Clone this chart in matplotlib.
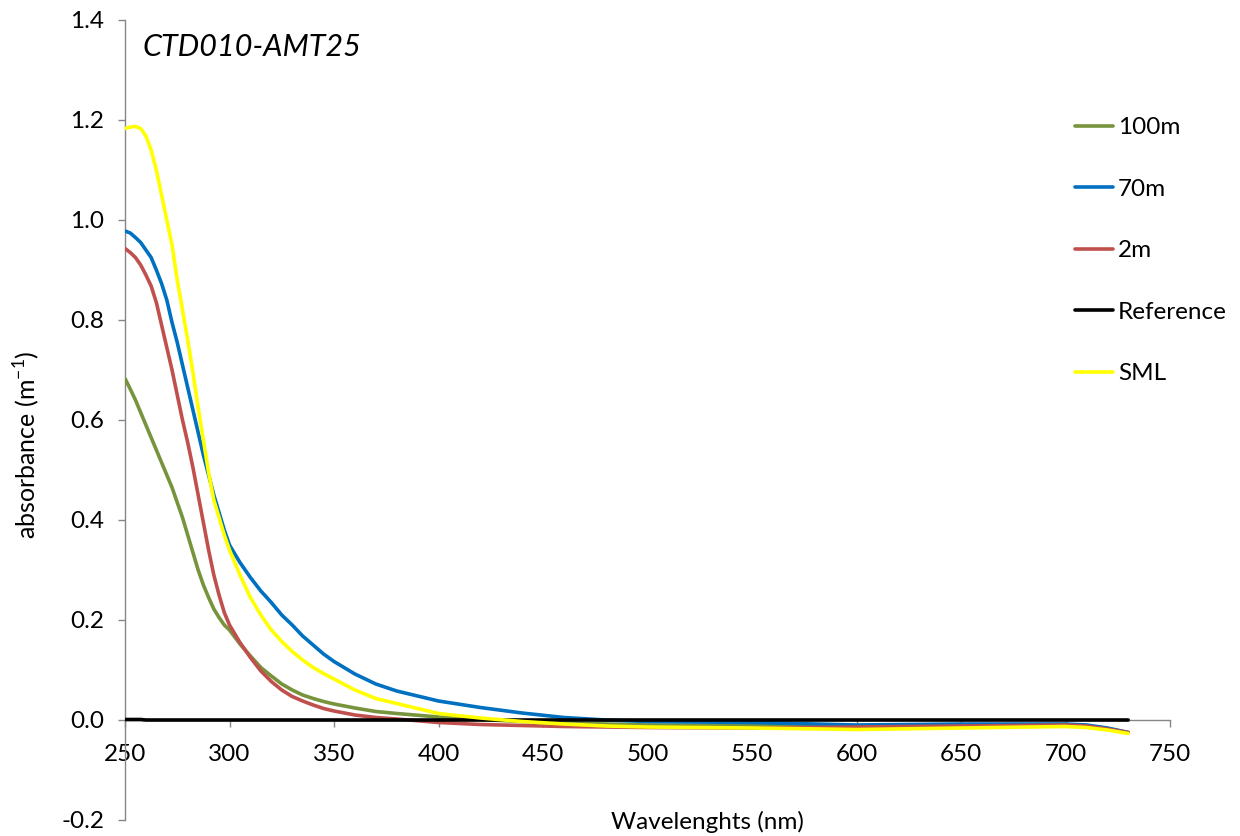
import matplotlib.pyplot as plt

plt.rcParams['font.family'] = ['Lato', 'DejaVu Sans']

wavelength = [250, 252.5, 255, 257.5, 260, 262.5, 265, 267.5, 270, 272.5, 275, 277.5, 280, 282.5,
              285, 287.5, 290, 292.5, 295, 297.5, 300, 305, 310, 315, 320, 325, 330, 335, 340, 345,
              350, 360, 370, 380, 400, 420, 440, 460, 480, 500, 550, 600, 650, 700, 710, 720, 730]

m100 = [0.683, 0.662, 0.64, 0.615, 0.59, 0.565, 0.54, 0.515, 0.49, 0.465, 0.435, 0.405, 0.37, 0.335,
        0.30, 0.27, 0.245, 0.222, 0.205, 0.19, 0.18, 0.152, 0.128, 0.105, 0.088, 0.072, 0.06, 0.05,
        0.043, 0.037, 0.032, 0.024, 0.017, 0.013, 0.006, 0.001, -0.003, -0.006, -0.008, -0.01,
        -0.011, -0.012, -0.01, -0.009, -0.011, -0.017, -0.025]
m70 = [0.978, 0.974, 0.965, 0.955, 0.94, 0.925, 0.90, 0.873, 0.84, 0.795, 0.755, 0.71, 0.665, 0.62,
       0.575, 0.53, 0.49, 0.45, 0.415, 0.38, 0.35, 0.315, 0.285, 0.258, 0.235, 0.21, 0.19, 0.168,
       0.15, 0.132, 0.117, 0.092, 0.072, 0.058, 0.038, 0.025, 0.014, 0.005, 0.0, -0.003,
       -0.005, -0.01, -0.008, -0.008, -0.01, -0.016, -0.025]
m2 = [0.943, 0.935, 0.925, 0.91, 0.89, 0.868, 0.835, 0.79, 0.745, 0.70, 0.65, 0.60, 0.555, 0.505,
      0.45, 0.395, 0.34, 0.29, 0.25, 0.215, 0.19, 0.155, 0.125, 0.098, 0.077, 0.06, 0.047, 0.038,
      0.03, 0.023, 0.018, 0.01, 0.005, 0.002, -0.005, -0.009, -0.011, -0.013, -0.014, -0.015,
      -0.016, -0.014, -0.012, -0.01, -0.012, -0.018, -0.025]
reference = [0.001, 0.001, 0.001, 0.001, 0.0, 0.0, 0.0, 0.0, 0.0, 0.0, 0.0, 0.0, 0.0, 0.0,
             0.0, 0.0, 0.0, 0.0, 0.0, 0.0, 0.0, 0.0, 0.0, 0.0, 0.0, 0.0, 0.0, 0.0, 0.0, 0.0,
             0.0, 0.0, 0.0, 0.0, 0.0, 0.0, 0.0, 0.0, 0.0, 0.0, 0.0, 0.0, 0.0, 0.0, 0.0, 0.0, 0.0]
sml = [1.183, 1.186, 1.187, 1.183, 1.168, 1.14, 1.10, 1.05, 1.00, 0.95, 0.88, 0.82, 0.76, 0.695,
       0.625, 0.56, 0.495, 0.44, 0.405, 0.37, 0.34, 0.29, 0.245, 0.21, 0.18, 0.157, 0.137, 0.12,
       0.105, 0.093, 0.082, 0.06, 0.043, 0.033, 0.013, 0.004, -0.003, -0.008, -0.012, -0.014,
       -0.016, -0.019, -0.016, -0.013, -0.015, -0.02, -0.027]

series = [('100m', m100, '#77933C'), ('70m', m70, '#0070C0'), ('2m', m2, '#C0504D'),
          ('Reference', reference, '#000000'), ('SML', sml, '#FFFF00')]

fig = plt.figure(figsize=(12.4, 8.36), dpi=100)
ax = fig.add_axes([125 / 1240, 16 / 836, 1045 / 1240, 800 / 836])

for name, vals, col in series:
    ax.plot(wavelength, vals, color=col, lw=2.6, label=name, solid_capstyle='round', zorder=3)

ax.set_xlim(250, 750)
ax.set_ylim(-0.2, 1.4)
ax.set_xticks(range(250, 751, 50))
ax.set_yticks([-0.2, 0.0, 0.2, 0.4, 0.6, 0.8, 1.0, 1.2, 1.4])
ax.set_yticklabels(['-0.2', '0.0', '0.2', '0.4', '0.6', '0.8', '1.0', '1.2', '1.4'])

for s in ['top', 'right']:
    ax.spines[s].set_visible(False)
ax.spines['bottom'].set_position(('data', 0))
for s in ['left', 'bottom']:
    ax.spines[s].set_color('#868686')
    ax.spines[s].set_linewidth(1)
ax.tick_params(axis='both', direction='out', length=5, width=1, color='#868686',
               labelsize=17.5, labelcolor='#000000')
ax.tick_params(axis='x', pad=12)
ax.tick_params(axis='y', pad=10)

ax.text((143 - 125) / 1045, 1 - 27 / 800, 'CTD010-AMT25', transform=ax.transAxes, fontsize=22,
        style='italic', ha='left', va='center')

fig.text(27 / 1240, 1 - 445 / 836, r'absorbance (m$^{\mathregular{-1}}$)', rotation=90,
         ha='center', va='center', fontsize=18)
fig.text(707 / 1240, 1 - 822 / 836, 'Wavelenghts (nm)', ha='center', va='center', fontsize=17.5)

ax.legend(loc='upper left', bbox_to_anchor=(1075 / 1240, 1 - 117 / 836),
          bbox_transform=fig.transFigure, frameon=False, fontsize=17.5, borderpad=0,
          borderaxespad=0, handlelength=1.56, handletextpad=0.2, labelspacing=1.67)

fig.savefig('out.png', dpi=100)
